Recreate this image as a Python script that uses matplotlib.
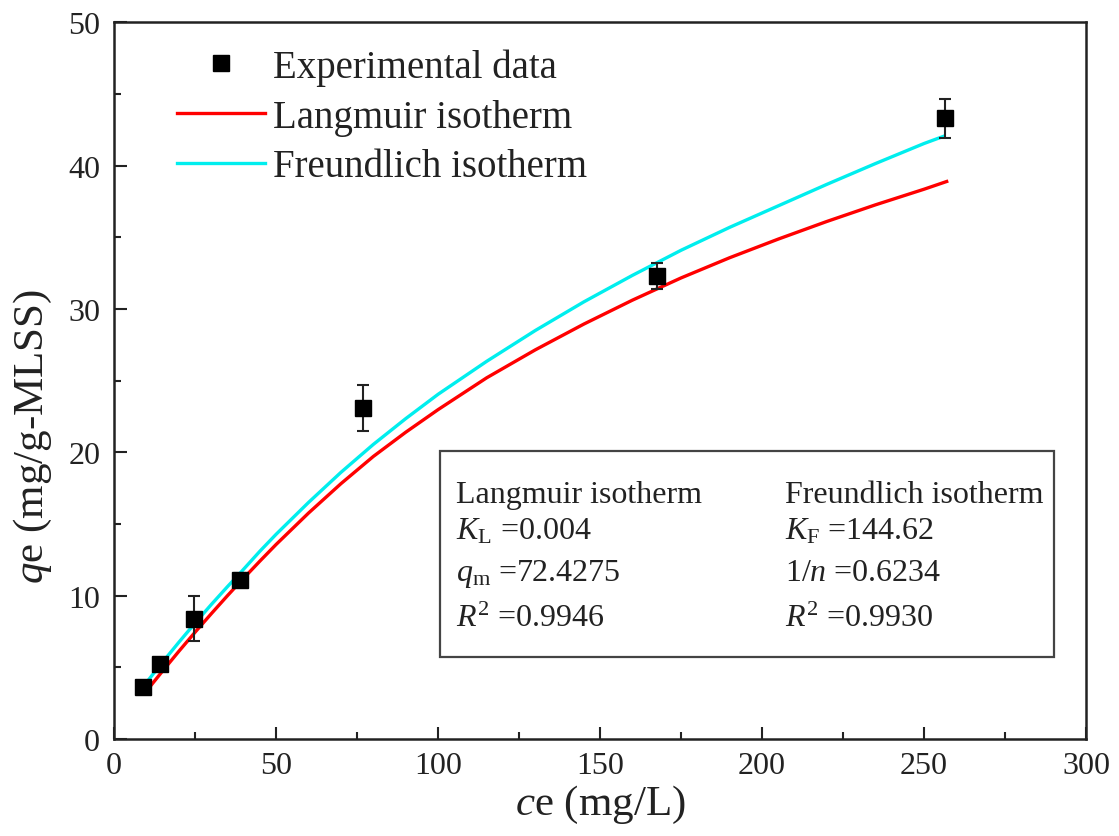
import matplotlib
matplotlib.use("Agg")
import matplotlib.pyplot as plt
from matplotlib.patches import Rectangle

plt.rcParams['font.family'] = ['Liberation Serif', 'DejaVu Serif']
plt.rcParams['mathtext.fontset'] = 'custom'
plt.rcParams['mathtext.rm'] = 'Liberation Serif'
plt.rcParams['mathtext.it'] = 'Liberation Serif:italic'
plt.rcParams['mathtext.bf'] = 'Liberation Serif:bold'

# Experimental data
ce_exp = [9.0, 14.3, 24.7, 38.9, 76.9, 167.6, 256.5]
qe_exp = [3.65, 5.2, 8.4, 11.1, 23.1, 32.3, 43.3]
qe_err = [0.3, 0.3, 1.55, 0.5, 1.6, 0.9, 1.35]

# Langmuir fitted curve
ce_lang = [9.5, 12, 15, 20, 25, 30, 35, 39, 45, 50, 60, 70, 80, 90, 100,
           115, 130, 145, 160, 175, 190, 205, 220, 235, 250, 257]
qe_lang = [3.2, 3.91, 4.75, 6.12, 7.45, 8.74, 10.0, 10.98, 12.41, 13.57,
           15.76, 17.81, 19.71, 21.4, 22.98, 25.2, 27.15, 28.95, 30.62,
           32.17, 33.58, 34.88, 36.11, 37.27, 38.36, 38.9]

# Freundlich fitted curve
ce_freu = [9.5, 12, 15, 20, 25, 30, 35, 39, 45, 50, 60, 70, 80, 90, 100,
           115, 130, 145, 160, 175, 190, 205, 220, 235, 250, 256]
qe_freu = [3.8, 4.52, 5.37, 6.75, 8.09, 9.38, 10.63, 11.6, 13.1, 14.28,
           16.5, 18.6, 20.55, 22.35, 24.05, 26.35, 28.5, 30.5, 32.35,
           34.1, 35.7, 37.2, 38.7, 40.15, 41.55, 42.05]

xticks = [0, 50, 100, 150, 200, 250, 300]
yticks = [0, 10, 20, 30, 40, 50]

fig = plt.figure(figsize=(11.19, 8.37), dpi=100)
ax = fig.add_axes([0.102, 0.116, 0.8685, 0.856])

ax.errorbar(ce_exp, qe_exp, yerr=qe_err, fmt='none',
            ecolor='#222222', elinewidth=1.5, capsize=4.5, capthick=1.5, zorder=3)
h_exp, = ax.plot(ce_exp, qe_exp, 's', color='black', ms=11, zorder=3.5,
                 label='Experimental data')
h_lang, = ax.plot(ce_lang, qe_lang, color='#ff0000', lw=2.4,
                  label='Langmuir isotherm', zorder=2)
h_freu, = ax.plot(ce_freu, qe_freu, color='#00eeee', lw=2.4,
                  label='Freundlich isotherm', zorder=2.5)

ax.set_xlim(0, 300)
ax.set_ylim(0, 50)
ax.set_xticks(xticks)
ax.set_yticks(yticks)
ax.set_xticks([25, 75, 125, 175, 225, 275], minor=True)
ax.set_yticks([5, 15, 25, 35, 45], minor=True)
ax.tick_params(which='both', direction='in', top=False, right=False, width=1.5,
               labelsize=23, colors='#222222')
ax.tick_params(axis='x', which='major', length=9, pad=9)
ax.tick_params(axis='y', which='major', length=9, pad=10)
ax.tick_params(which='minor', length=5)
for s in ax.spines.values():
    s.set_linewidth(1.8)
    s.set_color('#222222')

ax.set_xlabel(r'$c$e (mg/L)', fontsize=31, color='#222222', labelpad=2)
ax.set_ylabel(r'$q$e (mg/g-MLSS)', fontsize=31, color='#222222')
ax.yaxis.set_label_coords(-0.062, 0.424)

leg = ax.legend(handles=[h_exp, h_lang, h_freu], loc='upper left',
                bbox_to_anchor=(0.065, 0.964), frameon=False,
                fontsize=28, handlelength=2.25, handletextpad=0.22,
                labelspacing=0.33, borderpad=0, borderaxespad=0)
for t in leg.get_texts():
    t.set_color('#222222')

# parameter box
ax.add_patch(Rectangle((0.335, 0.114), 0.632, 0.2875, transform=ax.transAxes,
                       fill=False, edgecolor='#444444', lw=1.6, zorder=4))
rows = [0.330, 0.280, 0.222, 0.158]
left_txt = ['Langmuir isotherm', r'$K_{\mathrm{L}}$ =0.004',
            r'$q_{\mathrm{m}}$ =72.4275', r'$R^{2}$ =0.9946']
right_txt = ['Freundlich isotherm', r'$K_{\mathrm{F}}$ =144.62',
             r'1/$n$ =0.6234', r'$R^{2}$ =0.9930']
for y, lt, rt in zip(rows, left_txt, right_txt):
    ax.text(0.352, y, lt, transform=ax.transAxes, fontsize=23,
            va='baseline', ha='left', color='#222222')
    ax.text(0.690, y, rt, transform=ax.transAxes, fontsize=23,
            va='baseline', ha='left', color='#222222')

fig.savefig('out.png', dpi=100)
